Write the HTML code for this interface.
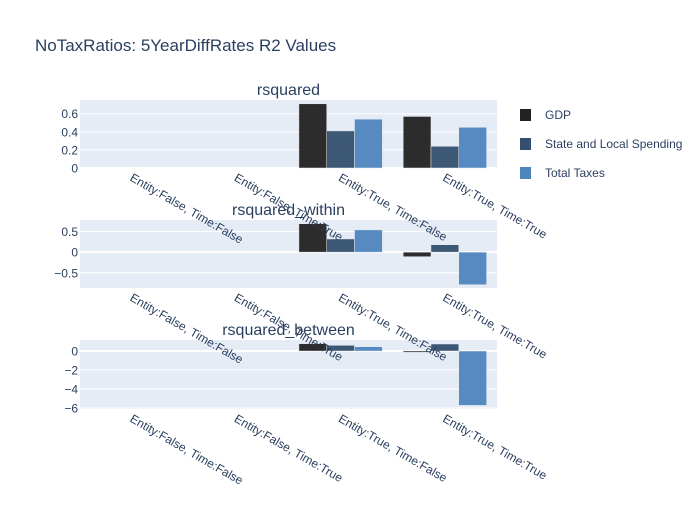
<!DOCTYPE html>
<html><head><meta charset="utf-8"><style>body{margin:0;background:#fff}svg{font-family:"Liberation Sans",Arial,sans-serif}</style></head>
<body>
<svg id="c" width="700" height="500">
<text x="35" y="51" font-size="17" fill="#2a3f5f">NoTaxRatios: 5YearDiffRates R2 Values</text>
</svg>
<script>
const categories=["Entity:False, Time:False","Entity:False, Time:True","Entity:True, Time:False","Entity:True, Time:True"];
const seriesNames=["GDP","State and Local Spending","Total Taxes"];
const seriesColors=["#222222","#34506e","#4e85bd"];
const rsquaredGDP=[null,null,0.71,0.57];
const rsquaredSLS=[null,null,0.41,0.24];
const rsquaredTT=[null,null,0.54,0.45];
const withinGDP=[null,null,0.69,-0.11];
const withinSLS=[null,null,0.32,0.18];
const withinTT=[null,null,0.54,-0.79];
const betweenGDP=[null,null,0.77,-0.14];
const betweenSLS=[null,null,0.6,0.74];
const betweenTT=[null,null,0.45,-5.72];
const ticks1=[0,0.2,0.4,0.6];const ticks2=[-0.5,0,0.5];const ticks3=[-6,-4,-2,0];
const svg=document.getElementById('c');const NS='http://www.w3.org/2000/svg';
function mk(t,a,p){const e=document.createElementNS(NS,t);for(const k in a)e.setAttribute(k,a[k]);(p||svg).appendChild(e);return e;}
const X0=80,X1=497;const bw=(X1-X0)/categories.length;
const panels=[
 {name:'rsquared',top:100,bot:168,min:-0.0,max:0.752,ticks:ticks1,data:[rsquaredGDP,rsquaredSLS,rsquaredTT]},
 {name:'rsquared_within',top:220,bot:288,min:-0.87,max:0.78,ticks:ticks2,data:[withinGDP,withinSLS,withinTT]},
 {name:'rsquared_between',top:340,bot:409,min:-6.1,max:1.16,ticks:ticks3,data:[betweenGDP,betweenSLS,betweenTT]}];
const groups=panels.map(()=>mk('g',{}));
const labelLayer=mk('g',{});


panels.forEach((p,pi)=>{
 const g=groups[pi];
 
 
 mk('rect',{x:X0,y:p.top,width:X1-X0,height:p.bot-p.top,fill:'#e5ecf6'},g);
 const y=v=>p.bot-(v-p.min)/(p.max-p.min)*(p.bot-p.top);
 p.ticks.forEach(t=>{
  mk('line',{x1:X0,x2:X1,y1:y(t),y2:y(t),stroke:'#fff','stroke-width':t===0?2:1},g);
  const tx=mk('text',{x:X0-2,y:y(t)+4.5,'text-anchor':'end','font-size':12,fill:'#2a3f5f'},labelLayer);
  tx.textContent=String(t).replace('-','\u2212');
  
  
 });
 p.data.forEach((s,si)=>{
  s.forEach((v,ci)=>{
   if(v===null)return;
   const w=bw*0.8/3;const x=X0+ci*bw+bw*0.1+si*w;
   const r=mk('rect',{x:x,y:Math.min(y(v),y(0)),width:w,height:Math.abs(y(v)-y(0)),fill:seriesColors[si],'fill-opacity':0.95,stroke:'#e5ecf6','stroke-width':0.5},g);
   
   
  });
 });
 categories.forEach((c,ci)=>{
  const cx=X0+ci*bw+bw/2;
  const tx=mk('text',{x:0,y:0,'font-size':12,fill:'#2a3f5f',transform:`translate(${cx-3},${p.bot+12}) rotate(30)`},labelLayer);
  tx.textContent=c;
  
  
 });
 const st=mk('text',{x:(X0+X1)/2,y:p.top-5,'text-anchor':'middle','font-size':16,fill:'#2a3f5f'},labelLayer);
 st.textContent=p.name;
 
 
});
seriesNames.forEach((n,i)=>{
 const g=mk('g',{});
 
 
 const yy=115+i*29;
 mk('rect',{x:520,y:yy-6,width:11,height:12,fill:seriesColors[i]},g);
 const t=mk('text',{x:545,y:yy+4,'font-size':12,fill:'#2a3f5f'},g);t.textContent=n;
});
</script>
</body></html>
